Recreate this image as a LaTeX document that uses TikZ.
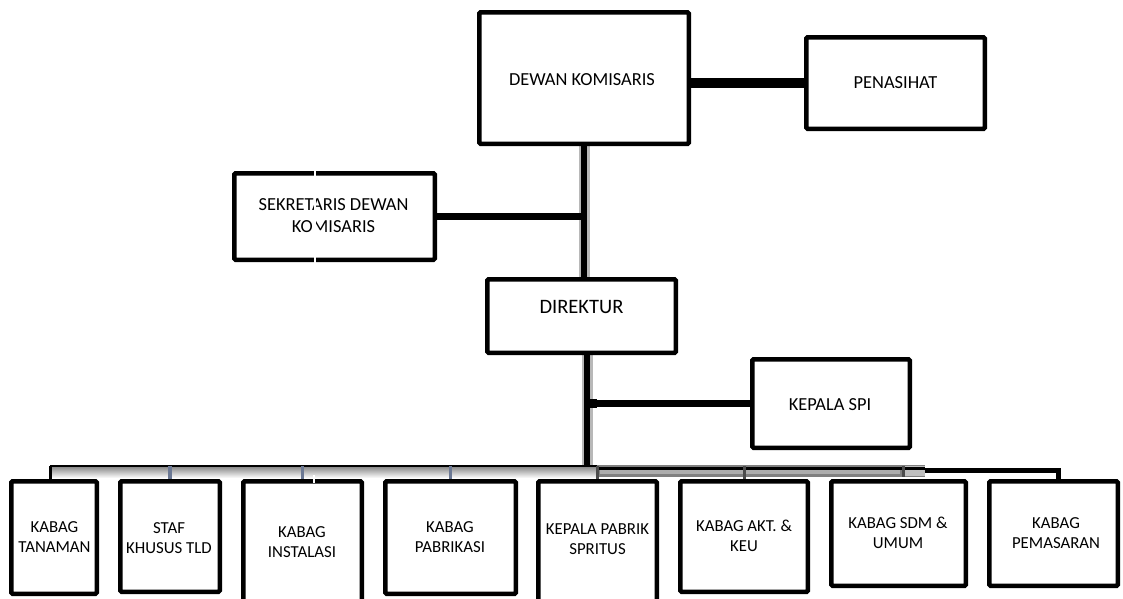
\documentclass[tikz,border=0pt]{standalone}
\usepackage{fontspec}
\setmainfont{Carlito}
\usetikzlibrary{backgrounds}
\begin{document}
\begin{tikzpicture}[x=1pt,y=-1pt,
  box/.style={draw, line width=4.5pt, rounded corners=1.2pt, fill=white, inner sep=0pt},
  toptxt/.style={font=\fontsize{18.4}{22}\selectfont, align=center, inner sep=0pt},
  dirtxt/.style={font=\fontsize{20.5}{24}\selectfont, align=center, inner sep=0pt},
  bottxt/.style={font=\fontsize{16.8}{20}\selectfont, align=center, inner sep=0pt},
  trunk/.style={line width=6pt, black},
  trunkshadow/.style={line width=11pt, black!28},
  link/.style={line width=6.5pt, black},
  biglink/.style={line width=10pt, black},
  bluestub/.style={line width=3.5pt, color={rgb,1:red,0.42;green,0.47;blue,0.58}},
  darkstub/.style={line width=3pt, black!70},
  blackstub/.style={line width=3pt, black},
  busline/.style={line width=2.2pt, black},
  gap/.style={line width=1.6pt, white}]
\useasboundingbox (0,0) rectangle (1123,598);

% boxes (top part)
\node[box, minimum width=209.5pt, minimum height=131.5pt] (dk) at (584,78) {};
\node[box, minimum width=178.5pt, minimum height=91.5pt] (pen) at (895.5,83) {};
\node[box, minimum width=200.5pt, minimum height=86.5pt] (sek) at (334.5,216.5) {};
\node[box, minimum width=188.5pt, minimum height=73.5pt] (dir) at (581.5,316) {};
\node[box, minimum width=157.5pt, minimum height=88.5pt] (spi) at (831,403.5) {};

% boxes (bottom row)
\node[box, minimum width=85.5pt, minimum height=112.5pt] (b1) at (54,537.5) {};
\node[box, minimum width=99.5pt, minimum height=110.5pt] (b2) at (170,536.5) {};
\node[box, minimum width=118.5pt, minimum height=120.5pt] (b3) at (302.5,541.5) {};
\node[box, minimum width=130.5pt, minimum height=112.5pt] (b4) at (450.5,537.5) {};
\node[box, minimum width=118.5pt, minimum height=120.5pt] (b5) at (597.5,541.5) {};
\node[box, minimum width=127.5pt, minimum height=110.5pt] (b6) at (744,536.5) {};
\node[box, minimum width=134.5pt, minimum height=104.5pt] (b7) at (898.5,533.5) {};
\node[box, minimum width=128.5pt, minimum height=104.5pt] (b8) at (1053.5,533.5) {};

% texts
\node[toptxt] (tdk) at (582,80) {DEWAN KOMISARIS};
\node[toptxt] (tpen) at (895.5,83) {PENASIHAT};
\node[toptxt] (tsek) at (333.5,216) {SEKRETARIS DEWAN\\KOMISARIS};
\node[dirtxt] (tdir) at (581.5,307) {DIREKTUR};
\node[toptxt] (tspi) at (830,405) {KEPALA SPI};
\node[bottxt] (t1) at (54.5,537) {KABAG\\TANAMAN};
\node[bottxt] (t2) at (169,538) {STAF\\KHUSUS TLD};
\node[bottxt] (t3) at (302,542.5) {KABAG\\INSTALASI};
\node[bottxt] (t4) at (450,537) {KABAG\\PABRIKASI};
\node[bottxt] (t5) at (597.5,539.5) {KEPALA PABRIK\\SPRITUS};
\node[bottxt] (t6) at (744,536) {KABAG AKT. \&\\KEU};
\node[bottxt] (t7) at (898,533) {KABAG SDM \&\\UMUM};
\node[bottxt] (t8) at (1056,533) {KABAG\\PEMASARAN};

% bus coordinates
\coordinate (busL) at (50,466);
\coordinate (busM) at (597,466);
\coordinate (busR) at (925,466);
\coordinate (busE) at (1058,470);

\begin{scope}[on background layer]
  % trunk
  \draw[trunkshadow] (dk.south) -- (dk.south |- dir.north);
  \draw[trunk] (dk.south) -- (dk.south |- dir.north);
  \draw[trunkshadow] ([xshift=3pt]dk.south |- dir.south) -- ([xshift=3pt]dk.south |- busM);
  \draw[trunk] ([xshift=3pt]dk.south |- dir.south) -- ([xshift=3pt]dk.south |- busM);
  % side links
  \draw[biglink] (pen.west) -- (pen.west -| dk.east);
  \draw[link] (sek.east) -- ([xshift=1pt]sek.east -| dk.south);
  \draw[link] (spi.west) -- ([xshift=3pt]spi.west -| dk.south);
  \draw[line width=9pt] ([xshift=3pt]spi.west -| dk.south) -- ([xshift=13pt]spi.west -| dk.south);
  % bus shading
  \shade[top color=black!45, bottom color=white] (52,467) rectangle (597,478);
  \fill[black!50] (597,465) rectangle (925,477);
  \fill[black!32] (600,468) rectangle (900,474);
  \fill[black!25] (903,466) rectangle (925,476);
  % bus lines
  \draw[busline] (busL) -- (busM);
  \draw[busline] ([yshift=-2.5pt]busM) -- ([yshift=-2.5pt]busR);
  \draw[line width=5pt] (busR |- busE) -- (busE) -- (b8.north -| busE);
  % stubs
  \draw[blackstub] (busL) -- (b1.north -| busL);
  \draw[bluestub] (b2.north |- busL) -- (b2.north);
  \draw[bluestub] (b3.north |- busL) -- (b3.north);
  \draw[bluestub] (b4.north |- busL) -- (b4.north);
  \draw[darkstub] (busM) -- (b5.north -| busM);
  \draw[darkstub] (b6.north |- busM) -- (b6.north);
  \draw[darkstub] (903,466) -- (903,477);
\end{scope}

% white gaps (scan artefacts)
\draw[gap] (315,166) -- (315,267);
\draw[gap] (314,475) -- (314,483);
\end{tikzpicture}
\end{document}
